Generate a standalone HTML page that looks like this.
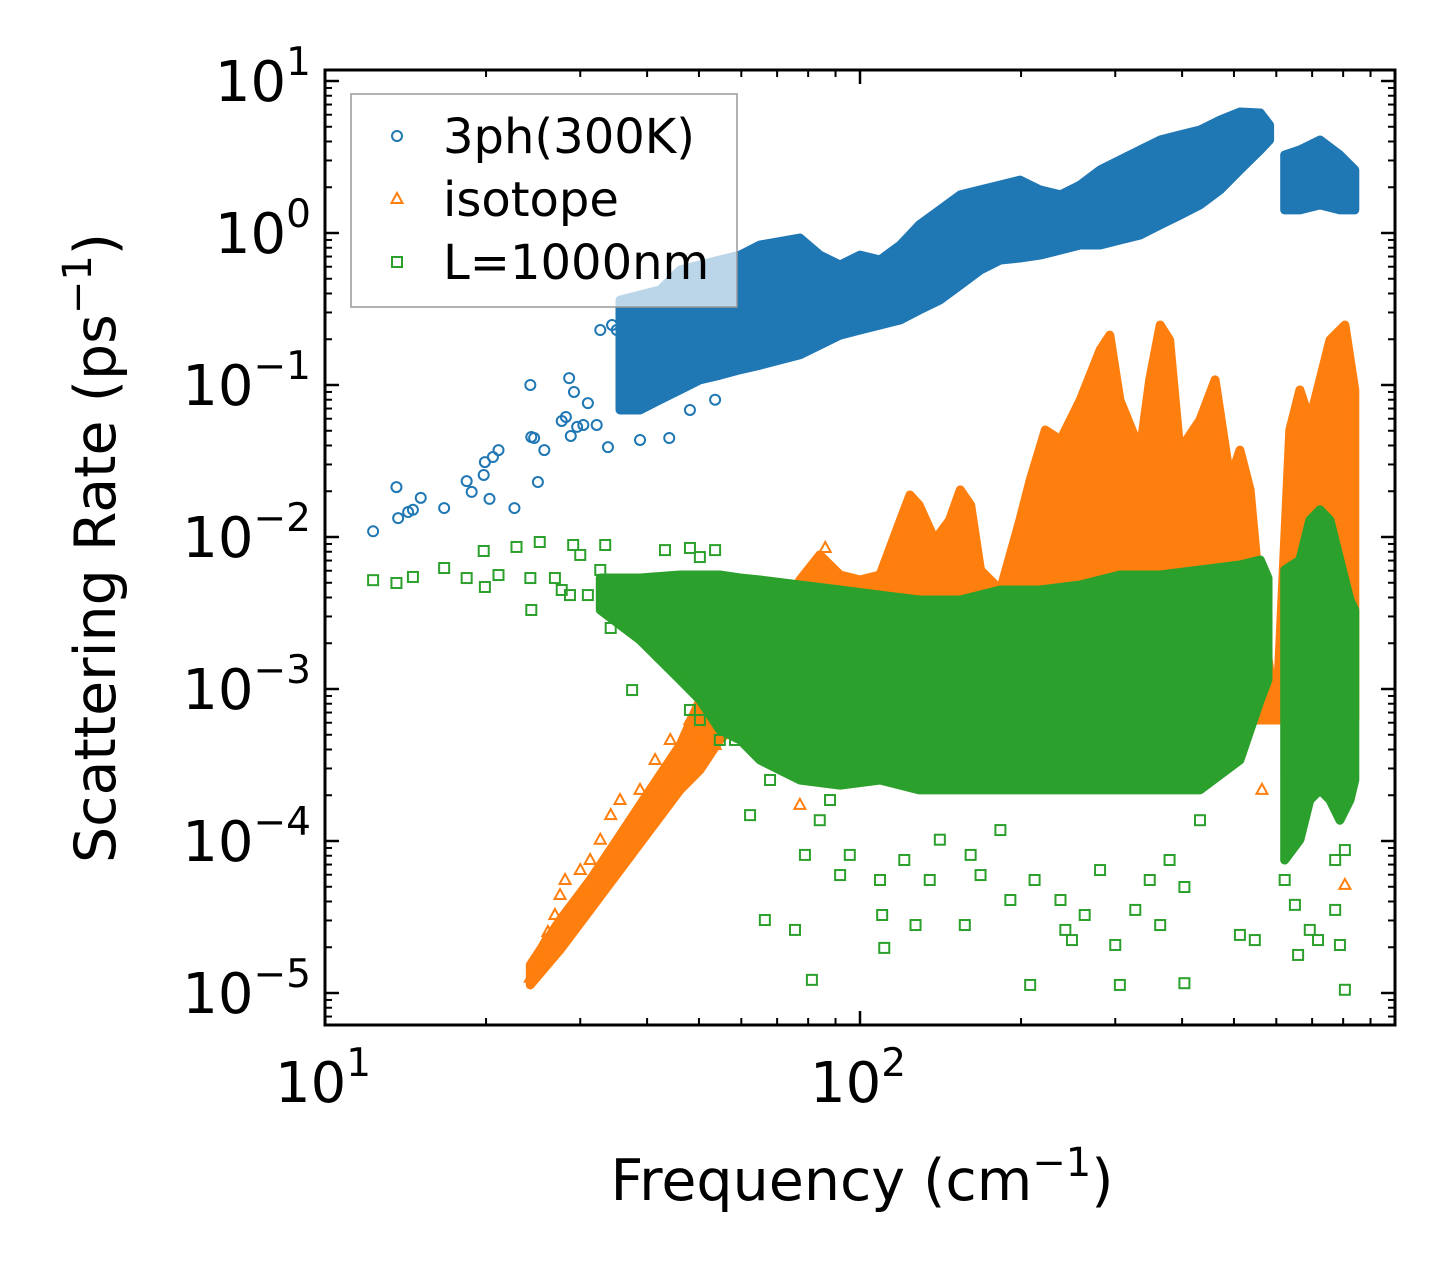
<!DOCTYPE html>
<html><head><meta charset="utf-8"><style>
html,body{margin:0;padding:0;background:#fff;}
svg{display:block;font-family:"DejaVu Sans","Liberation Sans",sans-serif;}
</style></head><body>
<svg id="chart" width="1455" height="1275" viewBox="0 0 1455 1275" xmlns="http://www.w3.org/2000/svg">
<g id="plot"></g>
<g id="axes"></g>
<g id="legend">
  <rect x="351" y="94" width="386" height="213" fill="#fff" fill-opacity="0.7" stroke="#999" stroke-width="1.5"/>
  <g>
    <circle cx="397" cy="136" r="5" fill="none" stroke="#1f77b4" stroke-width="2"/>
    <text x="443" y="153" font-size="48">3ph(300K)</text>
  </g>
  <g>
    <polygon points="397,193 391.5,203 402.5,203" fill="none" stroke="#ff7f0e" stroke-width="2"/>
    <text x="443" y="216" font-size="48">isotope</text>
  </g>
  <g>
    <rect x="392" y="257" width="10" height="10" fill="none" stroke="#2ca02c" stroke-width="2"/>
    <text x="443" y="279" font-size="48">L=1000nm</text>
  </g>
</g>
<text x="862" y="1200" font-size="57" text-anchor="middle">Frequency (cm<tspan dy="-24" font-size="40">−1</tspan><tspan dy="24">)</tspan></text>
<text transform="translate(115,548) rotate(-90)" font-size="57" text-anchor="middle">Scattering Rate (ps<tspan dy="-24" font-size="40">−1</tspan><tspan dy="24">)</tspan></text>
</svg>
<script>
// ---- data ----
const blueFreq = [12.3,13.6,13.7,14.3,14.6,15.1,16.7,18.4,18.8,19.9,19.8,20.3,20.6,21.1,22.6,24.3,24.2,24.6,25.0,25.7,27.7,28.2,28.6,28.8,29.2,29.6,30.4,31.0,32.2,33.8,34.4,35.1,38.8,44.0,32.7,36.6,48.1,53.6];
const blueRate = [0.0109,0.0213,0.0133,0.0146,0.0151,0.0181,0.0155,0.0233,0.0198,0.0311,0.0256,0.0178,0.0336,0.0373,0.0155,0.0455,0.1,0.0448,0.023,0.0373,0.058,0.0616,0.111,0.0462,0.09,0.053,0.0546,0.076,0.0546,0.039,0.248,0.23,0.0435,0.0448,0.23,0.268,0.0685,0.08];
const blueBandFreq = [35.6,38.8,42.3,46.1,50.2,54.7,59.7,65.0,77.2,84.1,91.8,100,109,119,129,141,154,168,183,199,217,237,258,281,306,334,364,396,432,471,513,560,583];
const blueBandHi = [0.362,0.391,0.422,0.571,0.616,0.664,0.716,0.834,0.927,0.716,0.616,0.716,0.664,0.834,1.13,1.42,1.78,1.92,2.07,2.23,1.92,1.78,2.07,2.6,3.02,3.52,4.09,4.41,4.76,5.54,6.25,6.16,5.13];
const blueBandLo = [0.0685,0.0685,0.080,0.093,0.108,0.116,0.126,0.135,0.158,0.183,0.213,0.230,0.248,0.268,0.311,0.362,0.455,0.571,0.664,0.685,0.716,0.773,0.834,0.834,0.9,0.97,1.13,1.31,1.53,1.92,2.6,3.52,4.09];
const blueBand2Freq = [622,664,724,789,841];
const blueBand2Hi = [3.26,3.52,4.09,3.26,2.6];
const blueBand2Lo = [1.42,1.42,1.53,1.42,1.42];

const orangeFreq = [24.2,24.5,25.2,25.8,26.1,26.9,27.5,28.1,30.0,31.3,32.7,34.2,35.6,38.8,41.4,44.2,48.1,50.2,53.6,58.4,77.2,86.1,564,806,817,789,636,513];
const orangeRate = [1.26e-5,1.42e-5,1.6e-5,2.23e-5,2.52e-5,3.26e-5,4.41e-5,5.54e-5,6.44e-5,7.5e-5,1.02e-4,1.48e-4,1.86e-4,2.17e-4,3.41e-4,4.62e-4,6.25e-4,4.28e-4,4.28e-4,9.84e-4,1.73e-4,8.47e-3,2.17e-4,5.14e-5,3.57e-3,2.93e-4,6.25e-4,3.97e-4];
const orangeBandFreq = [24.2,27.5,31.3,35.6,40.5,46.1,50.2,54.7,59.7,65.0,70.9,77.2,84.1,91.8,100,109,119,124,129,138,147,154,161,168,183,199,208,222,237,258,281,293,306,334,348,364,379,396,432,461,492,513,536,560,600,636,664,693,724,756,806,841];
const orangeBandHi = [1.53e-5,3.02e-5,5.54e-5,1.09e-4,2.17e-4,4.28e-4,8.47e-4,1.15e-3,1.55e-3,1.81e-3,2.84e-3,5.21e-3,7.62e-3,5.62e-3,5.21e-3,5.62e-3,1.29e-2,1.89e-2,1.62e-2,9.55e-3,1.29e-2,2.04e-2,1.62e-2,6.07e-3,4.48e-3,1.29e-2,2.37e-2,5.06e-2,4.35e-2,7.96e-2,0.170,0.213,7.96e-2,3.73e-2,0.108,0.248,0.198,3.73e-2,5.89e-2,0.108,2.37e-2,3.73e-2,2.04e-2,3.85e-3,6.25e-4,5.06e-2,9.27e-2,5.89e-2,0.108,0.198,0.248,9.27e-2];
const orangeBandLo = [1.13e-5,1.92e-5,3.52e-5,6.44e-5,1.18e-4,2.17e-4,2.93e-4,4.62e-4,6.25e-4,6.25e-4,6.25e-4,6.25e-4,6.25e-4,6.25e-4,6.25e-4,6.25e-4,6.25e-4,6.25e-4,6.25e-4,6.25e-4,6.25e-4,6.25e-4,6.25e-4,6.25e-4,6.25e-4,6.25e-4,6.25e-4,6.25e-4,6.25e-4,6.25e-4,6.25e-4,6.25e-4,6.25e-4,6.25e-4,6.25e-4,6.25e-4,6.25e-4,6.25e-4,6.25e-4,6.25e-4,6.25e-4,6.25e-4,6.25e-4,6.25e-4,6.25e-4,6.25e-4,6.25e-4,6.25e-4,6.25e-4,6.25e-4,6.25e-4,6.25e-4];

const greenFreq = [12.3,13.6,14.6,16.7,18.4,19.8,19.9,21.1,22.8,24.2,24.3,25.2,26.9,27.7,28.7,29.1,30.0,31.0,32.7,33.4,34.2,35.6,37.2,40.5,41.4,43.2,48.1,50.2,53.6,37.5,42.3,44.2,48.1,50.2,54.7,58.4,
 62.3,66.4,67.9,70.9,75.6,78.9,81.3,84.1,87.9,91.8,95.7,109,110,111,121,127,135,141,157,161,168,183,191,208,212,237,242,249,263,281,300,306,327,348,364,379,404,404,432,513,547,622,650,659,693,718,773,789,806,773,806];
const greenRate = [5.2e-3,4.98e-3,5.46e-3,6.25e-3,5.37e-3,8.09e-3,4.69e-3,5.62e-3,8.6e-3,5.37e-3,3.31e-3,9.27e-3,5.37e-3,4.48e-3,4.15e-3,8.86e-3,7.62e-3,4.15e-3,6.07e-3,8.86e-3,2.52e-3,4.48e-3,3.85e-3,2.2e-3,3.57e-3,8.2e-3,8.47e-3,7.38e-3,8.2e-3,9.84e-4,1.67e-3,1.44e-3,7.28e-4,6.25e-4,4.62e-4,4.62e-4,
 1.48e-4,3.02e-5,2.52e-4,3.41e-4,2.6e-5,8.1e-5,1.22e-5,1.37e-4,1.86e-4,5.97e-5,8.1e-5,5.54e-5,3.26e-5,1.98e-5,7.5e-5,2.8e-5,5.54e-5,1.02e-4,2.8e-5,8.1e-5,5.97e-5,1.18e-4,4.09e-5,1.13e-5,5.54e-5,4.09e-5,2.6e-5,2.23e-5,3.26e-5,6.44e-5,2.07e-5,1.13e-5,3.52e-5,5.54e-5,2.8e-5,7.5e-5,1.16e-5,4.98e-5,1.37e-4,2.41e-5,2.23e-5,5.54e-5,3.8e-5,1.78e-5,2.6e-5,2.23e-5,3.52e-5,2.07e-5,1.05e-5,7.5e-5,8.72e-5];
const greenBandFreq = [32.7,38.8,46.1,50.2,54.7,59.7,65.0,77.2,91.8,109,129,154,183,217,258,306,364,432,513,560,579];
const greenBandHi = [5.37e-3,5.37e-3,5.62e-3,5.62e-3,5.62e-3,5.37e-3,5.21e-3,4.83e-3,4.48e-3,4.15e-3,3.85e-3,3.85e-3,4.48e-3,4.48e-3,4.83e-3,5.62e-3,5.62e-3,6.07e-3,6.54e-3,7.06e-3,5.37e-3];
const greenBandLo = [3.31e-3,2.10e-3,1.15e-3,8.47e-4,5.37e-4,4.62e-4,3.41e-4,2.52e-4,2.33e-4,2.52e-4,2.17e-4,2.17e-4,2.17e-4,2.17e-4,2.17e-4,2.17e-4,2.17e-4,2.17e-4,3.41e-4,8.47e-4,1.15e-3];
const greenBand2Freq = [622,664,693,724,756,789,824,841];
const greenBand2Hi = [6.07e-3,7.06e-3,1.29e-2,1.51e-2,1.29e-2,7.06e-3,3.85e-3,3.31e-3];
const greenBand2Lo = [7.5e-5,1.02e-4,1.86e-4,2.17e-4,1.86e-4,1.37e-4,1.86e-4,2.52e-4];

const yMajorExp = [1,0,-1,-2,-3,-4,-5];
const xMajorExp = [1,2];

// ---- axis functions ----
const X0=325, X1=1395, Y0=70, Y1=1025;
function xs(f){ return X0 + 535*(Math.log10(f)-1); }
function ys(r){ return 233 - 152*Math.log10(r); }

const NS="http://www.w3.org/2000/svg";
const plot=document.getElementById('plot');
const axes=document.getElementById('axes');
function mk(tag, attrs, parent){
  const e=document.createElementNS(NS,tag);
  for(const k in attrs) e.setAttribute(k,attrs[k]);
  parent.appendChild(e); return e;
}
const defs=mk('defs',{},plot);
const cp=mk('clipPath',{id:'clip'},defs);
mk('rect',{x:X0,y:Y0,width:X1-X0,height:Y1-Y0},cp);
const pg=mk('g',{'clip-path':'url(#clip)'},plot);

function band(fr,hi,lo,color,name){
  let pts=[];
  for(let i=0;i<fr.length;i++) pts.push(xs(fr[i]).toFixed(1)+','+ys(hi[i]).toFixed(1));
  for(let i=fr.length-1;i>=0;i--) pts.push(xs(fr[i]).toFixed(1)+','+ys(lo[i]).toFixed(1));
  const p=mk('polygon',{points:pts.join(' '),fill:color,stroke:color,'stroke-width':9,'stroke-linejoin':'round'},pg);
  
  
}
function circles(fr,rt,color,name){
  const g=mk('g',{},pg);
  
  
  for(let i=0;i<fr.length;i++){
    const c=mk('circle',{cx:xs(fr[i]),cy:ys(rt[i]),r:5,fill:'none',stroke:color,'stroke-width':2},g);
    
    
  }
}
function tris(fr,rt,color,name){
  const g=mk('g',{},pg);
  
  
  for(let i=0;i<fr.length;i++){
    const x=xs(fr[i]), y=ys(rt[i]);
    const t=mk('polygon',{points:`${x},${y-6} ${x-5.5},${y+4} ${x+5.5},${y+4}`,fill:'none',stroke:color,'stroke-width':2},g);
    
    
  }
}
function squares(fr,rt,color,name){
  const g=mk('g',{},pg);
  
  
  for(let i=0;i<fr.length;i++){
    const s=mk('rect',{x:xs(fr[i])-5,y:ys(rt[i])-5,width:10,height:10,fill:'none',stroke:color,'stroke-width':2},g);
    
    
  }
}
const BLUE='#1f77b4', ORANGE='#ff7f0e', GREEN='#2ca02c';
band(blueBandFreq,blueBandHi,blueBandLo,BLUE,'3ph-dense-band');
band(blueBand2Freq,blueBand2Hi,blueBand2Lo,BLUE,'3ph-dense-band-high');
circles(blueFreq,blueRate,BLUE,'3ph-series');
band(orangeBandFreq,orangeBandHi,orangeBandLo,ORANGE,'isotope-dense-band');
tris(orangeFreq,orangeRate,ORANGE,'isotope-series');
band(greenBandFreq,greenBandHi,greenBandLo,GREEN,'boundary-dense-band');
band(greenBand2Freq,greenBand2Hi,greenBand2Lo,GREEN,'boundary-dense-band-high');
squares(greenFreq,greenRate,GREEN,'boundary-series');

// ---- axes ----
const frame=mk('rect',{x:X0,y:Y0,width:X1-X0,height:Y1-Y0,fill:'none',stroke:'#000','stroke-width':3},axes);


const tg=mk('g',{stroke:'#000'},axes);
for(let e=-6;e<=1;e++){
  for(let m=1;m<=9;m++){
    const y=ys(m*Math.pow(10,e));
    if(y<Y0+1||y>Y1-1) continue;
    const L=m===1?14:7, w=m===1?2.5:2;
    mk('line',{x1:X0,y1:y,x2:X0+L,y2:y,'stroke-width':w},tg);
    mk('line',{x1:X1,y1:y,x2:X1-L,y2:y,'stroke-width':w},tg);
  }
}
for(let e=1;e<=2;e++){
  for(let m=1;m<=9;m++){
    const x=xs(m*Math.pow(10,e));
    if(x<X0-0.5||x>X1-1) continue;
    const L=m===1?14:7, w=m===1?2.5:2;
    mk('line',{x1:x,y1:Y1,x2:x,y2:Y1-L,'stroke-width':w},tg);
    mk('line',{x1:x,y1:Y0,x2:x,y2:Y0+L,'stroke-width':w},tg);
  }
}
yMajorExp.forEach(e=>{
  const t=mk('text',{x:311,y:ys(Math.pow(10,e))+20,'font-size':56,'text-anchor':'end'},axes);
  
  
  t.textContent='10';
  const s=mk('tspan',{dy:-26,'font-size':39},t);
  s.textContent=(e<0?'−':'')+Math.abs(e);
});
xMajorExp.forEach(e=>{
  const t=mk('text',{x:xs(Math.pow(10,e))-2,y:1102,'font-size':56,'text-anchor':'middle'},axes);
  
  
  t.textContent='10';
  const s=mk('tspan',{dy:-26,'font-size':39},t);
  s.textContent=String(e);
});
</script>
</body></html>
